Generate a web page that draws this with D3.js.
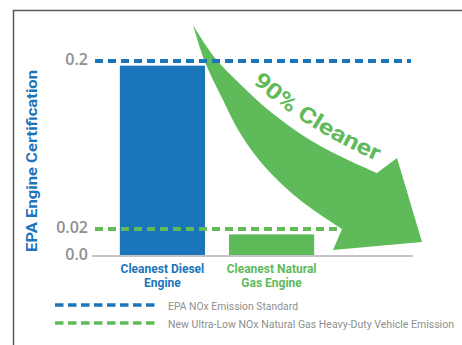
<!DOCTYPE html>
<html lang="en">
<head>
<meta charset="UTF-8">
<title>EPA Engine Certification</title>
<script src="https://d3js.org/d3.v7.min.js"></script>
<style>
  body { margin: 0; background: #fff; }
  text { font-family: "Roboto", "Liberation Sans", sans-serif; }
</style>
</head>
<body>
<svg id="chart" width="462" height="345"></svg>
<script>
// ---- data ----
const categories = ["Cleanest Diesel Engine", "Cleanest Natural Gas Engine"];
const categoryLines = [["Cleanest Diesel", "Engine"], ["Cleanest Natural", "Gas Engine"]];
const values = [0.195, 0.016];
const tickValues = [0, 0.02, 0.2];
const tickLabels = ["0.0", "0.02", "0.2"];
const standards = [
  {label: "EPA NOx Emission Standard", value: 0.2},
  {label: "New Ultra-Low NOx Natural Gas Heavy-Duty Vehicle Emission", value: 0.02}
];
const legendWidths = [130, 286];

const blue = "#1b75bb", green = "#5fba5a", grey = "#8d9094";
const svg = d3.select("#chart");

// frame
svg.append("path").attr("d", "M13.5,345 L13.5,10.5 L462,10.5")
  .attr("fill", "none").attr("stroke", "#5a5a5a").attr("stroke-width", 1.5);

// scales (illustrative, piecewise y axis)
const y = d3.scaleLinear().domain(tickValues).range([256, 229, 61]);
const x = d3.scaleBand().domain(categories).range([98, 336]).paddingInner(0.22).paddingOuter(0.2);
const colors = [blue, green];

// y axis labels
const yAxis = svg.append("g").attr("transform", "translate(92,0)")
  .call(d3.axisLeft(y).tickValues(tickValues).tickSize(0).tickPadding(4)
    .tickFormat((d, i) => tickLabels[i]));
yAxis.select(".domain").remove();
yAxis.selectAll("text")
  .attr("dy", "0.22em")
  .style("font-family", "'Open Sans', sans-serif")
  .style("font-size", "16px").style("font-weight", "600").attr("fill", grey);

// axis title
svg.append("text")
  .attr("transform", "translate(37,161) rotate(-90)")
  .attr("text-anchor", "middle")
  .attr("fill", blue).style("font-size", "15px").style("font-weight", "bold")
  .attr("textLength", 182).attr("lengthAdjust", "spacingAndGlyphs")
  .text("EPA Engine Certification");

// bars
svg.selectAll("rect.bar").data(values).join("rect")
  .attr("class", "bar")
  .attr("x", (d, i) => x(categories[i]))
  .attr("y", d => y(d))
  .attr("width", x.bandwidth())
  .attr("height", d => y(0) - y(d))
  .attr("fill", (d, i) => colors[i]);

// baseline
svg.append("line").attr("x1", 92).attr("x2", 413).attr("y1", y(0)).attr("y2", y(0))
  .attr("stroke", "#c3c5c8").attr("stroke-width", 2);

// category labels
categoryLines.forEach((lines, i) => {
  const t = svg.append("text")
    .attr("text-anchor", "middle")
    .attr("fill", colors[i]).style("font-size", "12px").style("font-weight", "bold");
  lines.forEach((l, j) => {
    t.append("tspan").attr("x", x(categories[i]) + x.bandwidth() / 2)
      .attr("y", 273 + j * 14).text(l);
  });
});

// green standard line (under the arrow)
svg.append("line").attr("x1", 95).attr("x2", 411)
  .attr("y1", y(standards[1].value)).attr("y2", y(standards[1].value))
  .attr("stroke", green).attr("stroke-width", 4).attr("stroke-dasharray", "8,5");

// big curved arrow
const upper = [[193,25],[215,58],[240,84],[272,113],[310,140],[348,160],[377,173]];
const head = [[397,158],[422,242],[333,250],[342,229]];
const lower = [[342,229],[300,200],[265,167],[240,133],[223,100],[205,62],[193,25]];
const curve = d3.line().curve(d3.curveCatmullRom);
const arrowPath = curve(upper) + head.map(p => "L" + p).join("") + curve(lower).replace(/^M/, "L") + "Z";
svg.append("path").attr("d", arrowPath).attr("fill", green);

// "90% Cleaner" along the arc
svg.append("path").attr("id", "arc").attr("d", "M250,80 Q300,128 388,166").attr("fill", "none");
svg.append("text")
  .attr("fill", green).style("font-size", "22px").style("font-weight", "bold")
  .append("textPath").attr("href", "#arc").attr("startOffset", 3)
  .attr("textLength", 148).attr("lengthAdjust", "spacingAndGlyphs")
  .text("90% Cleaner");

// blue standard line (over the arrow)
svg.append("line").attr("x1", 95).attr("x2", 411)
  .attr("y1", y(standards[0].value)).attr("y2", y(standards[0].value))
  .attr("stroke", blue).attr("stroke-width", 4).attr("stroke-dasharray", "8,5");

// legend
const legend = svg.selectAll("g.legend").data(standards).join("g")
  .attr("class", "legend")
  .attr("transform", (d, i) => `translate(55,${305 + i * 18})`);
legend.append("line").attr("x1", 0).attr("x2", 104)
  .attr("stroke", (d, i) => colors[i]).attr("stroke-width", 3.5).attr("stroke-dasharray", "8.5,4.5");
legend.append("text").attr("x", 113).attr("y", 4.5)
  .attr("fill", "#8f8f8f").style("font-size", "10.5px")
  .attr("textLength", (d, i) => legendWidths[i]).attr("lengthAdjust", "spacingAndGlyphs")
  .text(d => d.label);
</script>
</body>
</html>
